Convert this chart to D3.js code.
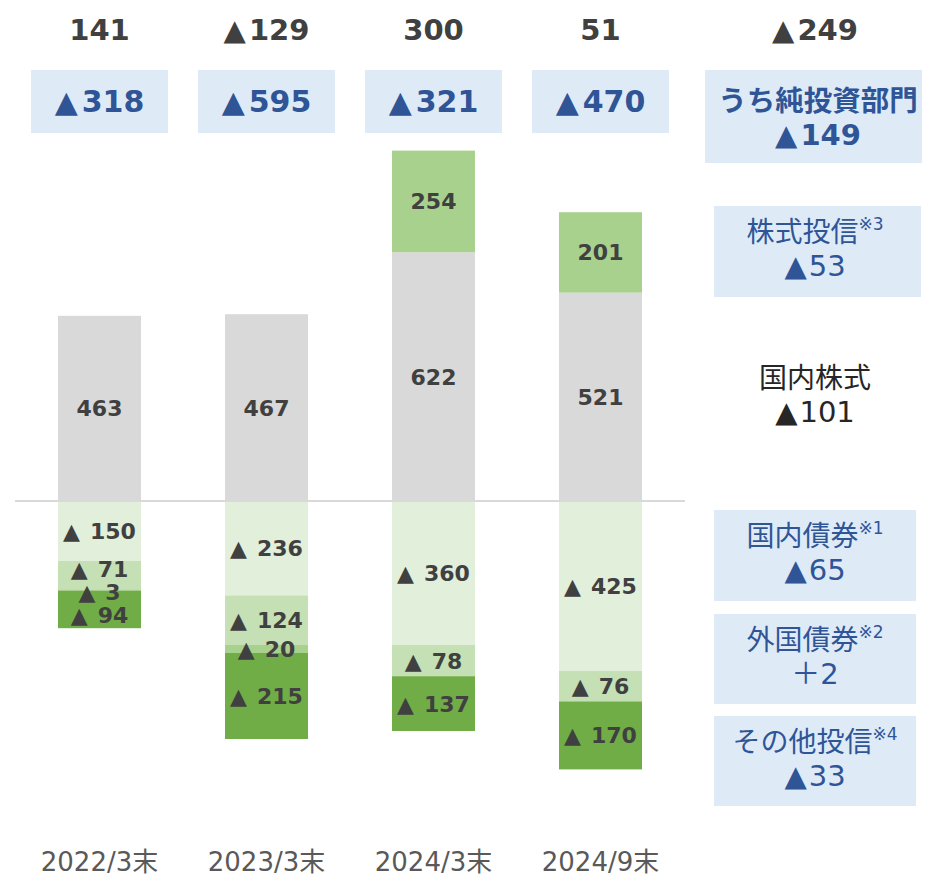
<!DOCTYPE html>
<html><head><meta charset="utf-8">
<script src="https://cdn.jsdelivr.net/npm/d3@7"></script>
<style>
html,body{margin:0;padding:0;background:#fff;}
svg{display:block;font-family:"DejaVu Sans","Noto Sans CJK JP",sans-serif;}
</style></head>
<body><svg id="c" width="925" height="878"></svg>
<script>
const categories = ["2022/3末","2023/3末","2024/3末","2024/9末"];
const seriesNames = ["国内債券","外国債券","国内株式","株式投信","その他投信"];
const domesticBond = [-150,-236,-360,-425];
const foreignBond  = [-71,-124,-78,-76];
const domesticStock= [463,467,622,521];
const stockFund    = [-3,-20,254,201];
const otherFund    = [-94,-215,-137,-170];
const totals       = [141,-129,300,51];
const totalChange  = -249;
const netInvest    = [-318,-595,-321,-470];
const netInvestChange = -149;
const changeLabels = [
  {name:"株式投信", note:"※3", value:-53},
  {name:"国内株式", note:"", value:-101},
  {name:"国内債券", note:"※1", value:-65},
  {name:"外国債券", note:"※2", value:2},
  {name:"その他投信", note:"※4", value:-33}
];
const colors = {"国内債券":"#E2EFDA","外国債券":"#C5E0B4","国内株式":"#D9D9D9","株式投信":"#A9D18E","その他投信":"#70AD47"};

function writeVal(t, v, gapPx, signed){
  if(v < 0){
    t.append("tspan").text("▲");
    t.append("tspan").attr("dx",gapPx).text(String(Math.abs(v)));
  } else if(signed){
    t.append("tspan").text("＋");
    t.append("tspan").text(String(v));
  } else t.append("tspan").text(String(v));
  return t;
}

const rows = categories.map((c,i)=>({cat:c,"国内債券":domesticBond[i],"外国債券":foreignBond[i],"国内株式":domesticStock[i],"株式投信":stockFund[i],"その他投信":otherFund[i]}));
const stack = d3.stack().keys(seriesNames).offset(d3.stackOffsetDiverging)(rows);

const svg = d3.select("#c");
const x = d3.scaleBand().domain(categories).range([16,684]).paddingInner(0.503).paddingOuter(0.2515);
const y = d3.scaleLinear().domain([-800,900]).range([821,141]);

// bars
const g = svg.append("g");
stack.forEach(s=>{
  g.selectAll(null).data(s).join("rect")
    .attr("x", d=>x(d.data.cat))
    .attr("width", x.bandwidth())
    .attr("y", d=>y(Math.max(d[0],d[1])))
    .attr("height", d=>Math.abs(y(d[0])-y(d[1])))
    .attr("fill", colors[s.key]);
});

// zero line
svg.append("line").attr("x1",15).attr("x2",685).attr("y1",y(0)).attr("y2",y(0))
  .attr("stroke","#D9D9D9").attr("stroke-width",2);

// segment labels with simple collision avoidance
categories.forEach((c,i)=>{
  let labs = stack.map(s=>({v:s[i].data[s.key], y:(y(s[i][0])+y(s[i][1]))/2})).filter(l=>l.v!==0);
  labs.sort((a,b)=>a.y-b.y);
  const gap=23;
  for(let it=0;it<50;it++){
    for(let k=1;k<labs.length;k++){
      const d = labs[k].y-labs[k-1].y;
      if(d<gap){const m=(gap-d)/2; labs[k].y+=m; labs[k-1].y-=m;}
    }
  }
  labs.forEach(l=>{
    const t = svg.append("text").attr("x", x(c)+x.bandwidth()/2).attr("y", l.y+8)
      .attr("text-anchor","middle")
      .attr("font-size",22).attr("font-weight","bold").attr("fill","#404040");
    writeVal(t, l.v, 10, false);
  });
});

// x axis labels
const xa = svg.append("g").attr("transform","translate(0,862)")
  .call(d3.axisBottom(x).tickSize(0).tickPadding(0));
xa.select(".domain").remove();
xa.selectAll("text").attr("font-size",26).attr("fill","#595959")
  .attr("font-family","DejaVu Sans,Noto Sans CJK JP").attr("dy","0.35em");

// top totals and net-investment boxes
const colRight = 815;
categories.forEach((c,i)=>{
  const cx = x(c)+x.bandwidth()/2;
  writeVal(svg.append("text").attr("x",cx).attr("y",40).attr("text-anchor","middle")
    .attr("font-size",29).attr("font-weight","bold").attr("fill","#404040"), totals[i], 3, false);
  svg.append("rect").attr("x",cx-68.5).attr("y",70).attr("width",137).attr("height",63).attr("fill","#DEEBF7");
  writeVal(svg.append("text").attr("x",cx).attr("y",112).attr("text-anchor","middle")
    .attr("font-size",30).attr("font-weight","bold").attr("fill","#2F5597"), netInvest[i], 4, false);
});
writeVal(svg.append("text").attr("x",colRight).attr("y",40).attr("text-anchor","middle")
  .attr("font-size",29).attr("font-weight","bold").attr("fill","#404040"), totalChange, 3, false);
svg.append("rect").attr("x",705).attr("y",70).attr("width",217).attr("height",93).attr("fill","#DEEBF7");
svg.append("text").attr("x",818).attr("y",111).attr("text-anchor","middle")
  .attr("font-size",28.5).attr("font-weight","bold").attr("fill","#2F5597").text("うち純投資部門");
writeVal(svg.append("text").attr("x",818).attr("y",145).attr("text-anchor","middle")
  .attr("font-size",29).attr("font-weight","bold").attr("fill","#2F5597"), netInvestChange, 3, false);

// right change boxes
const boxes = [
  {y:206,h:91,box:true},
  {y:352,h:80,box:false},
  {y:510,h:91,box:true},
  {y:614,h:90,box:true},
  {y:716,h:90,box:true}
];
changeLabels.forEach((l,i)=>{
  const b = boxes[i];
  const col = b.box ? "#2F5597" : "#262626";
  if(b.box) svg.append("rect").attr("x",714).attr("y",b.y).attr("width",i===0?207:202).attr("height",b.h).attr("fill","#DEEBF7");
  const cx = 815;
  const t = svg.append("text").attr("x",cx).attr("y",b.y+36).attr("text-anchor","middle")
    .attr("font-size",28).attr("fill",col);
  t.append("tspan").text(l.name);
  if(l.note) t.append("tspan").attr("font-size",17).attr("dy",-12).text(l.note);
  writeVal(svg.append("text").attr("x",cx).attr("y",b.y+70).attr("text-anchor","middle")
    .attr("font-size",29).attr("fill",col), l.value, 2, i===3);
});
</script></body></html>
